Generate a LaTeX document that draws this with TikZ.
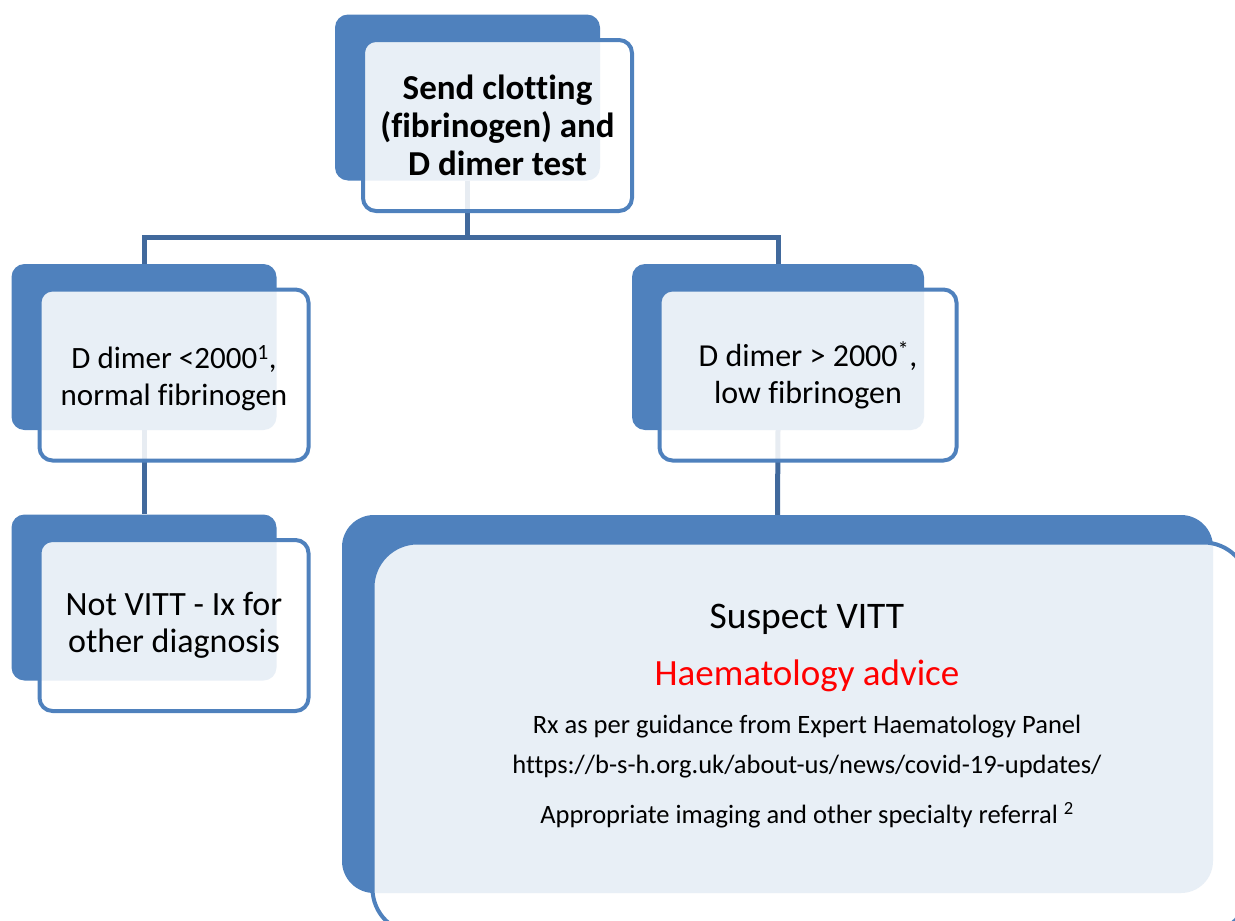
\documentclass[tikz,border=0pt]{standalone}
\usepackage{fontspec}
\setmainfont[Ligatures=NoCommon]{Carlito}
\usetikzlibrary{backgrounds}
\definecolor{boxblue}{HTML}{4F81BD}
\definecolor{linkblue}{HTML}{41699C}
\definecolor{advicered}{HTML}{FF0000}

\begin{document}
\begin{tikzpicture}[x=1pt,y=-1pt,line join=round]
    \tikzset{back/.style={fill=boxblue,rounded corners=13pt,inner sep=0pt,
                 minimum width=265pt,minimum height=166pt},
             front/.style={draw=boxblue,line width=4pt,fill=white,
                 fill opacity=0.875,text opacity=1,rounded corners=13pt,
                 inner sep=0pt,align=center,minimum width=269pt,
                 minimum height=171pt,font=\fontsize{31}{37}\selectfont},
             link/.style={draw=linkblue,line width=5pt}}
    \path[use as bounding box,clip] (0,0) rectangle (1235,921);
    % back boxes
    \node[back] (testb) at (467.5,97.5) {};
    \node[back] (lowb) at (144,347) {};
    \node[back,minimum width=292pt] (highb) at (778,347) {};
    \node[back] (notb) at (144,597.5) {};
    \node[back,minimum width=871pt,minimum height=378pt,
          rounded corners=32pt] (vittb) at (777.5,704) {};
    % front boxes
    \node[front,font=\fontsize{35}{38}\selectfont\bfseries] (test)
        at ([shift={(30,28)}]testb.center) {Send clotting\\(fibrinogen) and\\D dimer test};
    \node[front] (low) at ([shift={(30,28)}]lowb.center)
        {\rule{0pt}{30pt}D dimer <2000\textsuperscript{1},\\normal fibrinogen};
    \node[front,minimum width=297pt,font=\fontsize{32}{37}\selectfont] (high)
        at ([shift={(30,28)}]highb.center)
        {D dimer > 2000\textsuperscript{*},\\ low fibrinogen};
    \node[front,font=\fontsize{34}{37}\selectfont] (not) at ([shift={(30,28)}]notb.center)
        {Not VITT - Ix for\\other diagnosis};
    \node[front,minimum width=876pt,minimum height=391pt,
          rounded corners=45pt] (vitt) at ([shift={(33,34)}]vittb.center) {};
    \node[font=\fontsize{26.5}{40}\selectfont,align=center,inner sep=0pt] (advice) at (807,716)
        {{\fontsize{37.5}{40}\selectfont Suspect VITT}\\[17pt]
         {\fontsize{37}{40}\selectfont\color{advicered}Haematology advice}\\[8pt]
         Rx as per guidance from Expert Haematology Panel\\
         https://b-s-h.org.uk/about-us/news/covid-19-updates/\\[10pt]
         Appropriate imaging and other specialty referral \textsuperscript{2}};
    % connectors
    \begin{pgfonlayer}{background}
    \draw[link] (testb.south) -- ++(0,57) -| (lowb.north);
    \draw[link] (testb.south) -- ++(0,57) -| (highb.north);
    \draw[link] (lowb.south) -- (notb.north);
    \draw[link] (highb.south) -- (vittb.north);
    \end{pgfonlayer}
\end{tikzpicture}
\end{document}
